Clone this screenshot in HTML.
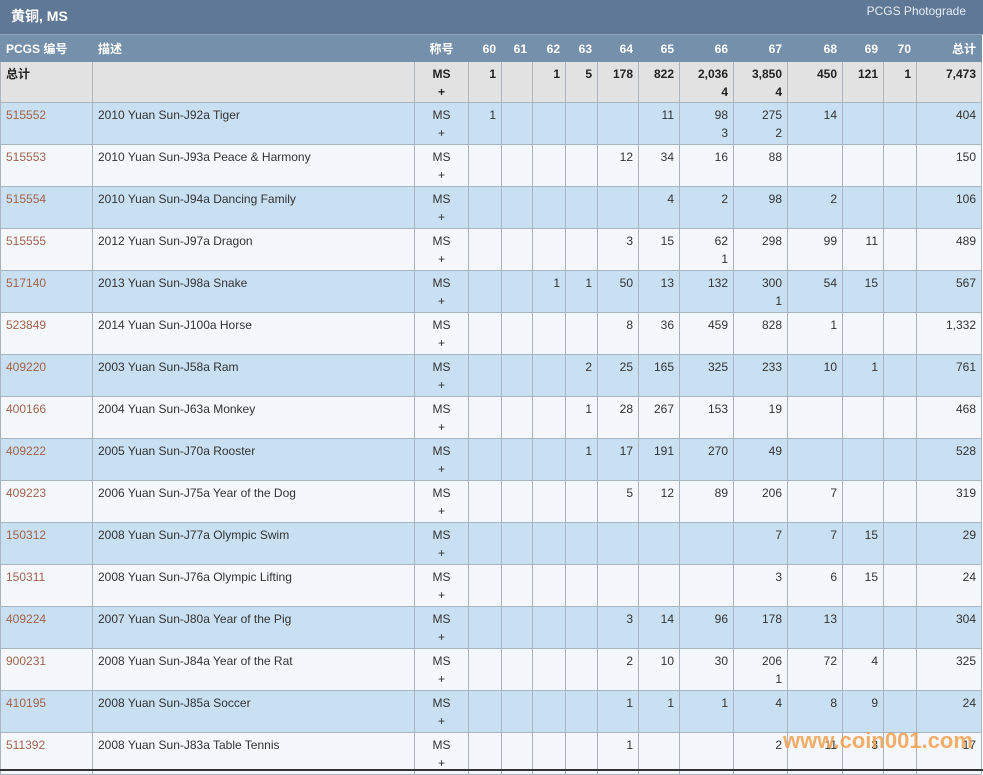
<!DOCTYPE html>
<html><head><meta charset="utf-8"><style>
body{margin:0;width:983px;height:771px;overflow:hidden;background:#fff;font-family:"Liberation Sans","Noto Sans CJK SC",sans-serif;font-size:12px;color:#333;position:relative}
.bar{position:absolute;left:0;top:0;width:983px;height:35px;background:#5f7896;border-bottom:1px solid #8ea3b9;box-sizing:border-box}
.bar .t{position:absolute;left:11px;top:6px;color:#fff;font-weight:bold;font-size:14px}
.bar .r{position:absolute;right:17px;top:4px;color:#e6edf5;font-size:12px}
table{position:absolute;left:0;top:35px;border-collapse:collapse;table-layout:fixed;width:982px}
td,th{border:1px solid #a9b4c0;padding:3px 5px 0 5px;vertical-align:top;text-align:right;line-height:18px;overflow:hidden;white-space:nowrap}
th{background:#7590ab;color:#fff;height:21px;border-color:#7590ab;font-weight:bold;padding-top:4px;padding-bottom:0}
td.l,th.l{text-align:left}
td.c,th.c{text-align:center}
tr.tot td{background:#e2e2e2;font-weight:bold;color:#222;height:37px}
tr.b td{background:#c9dff2}
tr.w td{background:#f4f8fc}
tr.d td{height:38px}
a{color:#a0634a;text-decoration:none}
.wm{position:absolute;left:783px;top:728px;color:#f2a050;font-weight:bold;font-size:22px;opacity:.85}
.bot{position:absolute;left:0;top:769px;width:983px;height:2px;background:#333}
</style></head><body>
<div class="bar"><span class="t">黄铜, MS</span><span class="r">PCGS Photograde</span></div>
<table>
<colgroup><col style="width:92px"><col style="width:322px"><col style="width:54px"><col style="width:33px"><col style="width:31px"><col style="width:33px"><col style="width:32px"><col style="width:41px"><col style="width:41px"><col style="width:54px"><col style="width:54px"><col style="width:55px"><col style="width:41px"><col style="width:33px"><col style="width:65px"></colgroup>
<tr><th class="l">PCGS 编号</th><th class="l">描述</th><th class="c">称号</th><th>60</th><th>61</th><th>62</th><th>63</th><th>64</th><th>65</th><th>66</th><th>67</th><th>68</th><th>69</th><th>70</th><th>总计</th></tr>
<tr class="tot"><td class="l">总计</td><td></td><td class="c">MS<br>+</td><td>1</td><td></td><td>1</td><td>5</td><td>178</td><td>822</td><td>2,036<br>4</td><td>3,850<br>4</td><td>450</td><td>121</td><td>1</td><td>7,473</td></tr>
<tr class="b d"><td class="l"><a>515552</a></td><td class="l">2010 Yuan Sun-J92a Tiger</td><td class="c">MS<br>+</td><td>1</td><td></td><td></td><td></td><td></td><td>11</td><td>98<br>3</td><td>275<br>2</td><td>14</td><td></td><td></td><td>404</td></tr>
<tr class="w d"><td class="l"><a>515553</a></td><td class="l">2010 Yuan Sun-J93a Peace &amp; Harmony</td><td class="c">MS<br>+</td><td></td><td></td><td></td><td></td><td>12</td><td>34</td><td>16</td><td>88</td><td></td><td></td><td></td><td>150</td></tr>
<tr class="b d"><td class="l"><a>515554</a></td><td class="l">2010 Yuan Sun-J94a Dancing Family</td><td class="c">MS<br>+</td><td></td><td></td><td></td><td></td><td></td><td>4</td><td>2</td><td>98</td><td>2</td><td></td><td></td><td>106</td></tr>
<tr class="w d"><td class="l"><a>515555</a></td><td class="l">2012 Yuan Sun-J97a Dragon</td><td class="c">MS<br>+</td><td></td><td></td><td></td><td></td><td>3</td><td>15</td><td>62<br>1</td><td>298</td><td>99</td><td>11</td><td></td><td>489</td></tr>
<tr class="b d"><td class="l"><a>517140</a></td><td class="l">2013 Yuan Sun-J98a Snake</td><td class="c">MS<br>+</td><td></td><td></td><td>1</td><td>1</td><td>50</td><td>13</td><td>132</td><td>300<br>1</td><td>54</td><td>15</td><td></td><td>567</td></tr>
<tr class="w d"><td class="l"><a>523849</a></td><td class="l">2014 Yuan Sun-J100a Horse</td><td class="c">MS<br>+</td><td></td><td></td><td></td><td></td><td>8</td><td>36</td><td>459</td><td>828</td><td>1</td><td></td><td></td><td>1,332</td></tr>
<tr class="b d"><td class="l"><a>409220</a></td><td class="l">2003 Yuan Sun-J58a Ram</td><td class="c">MS<br>+</td><td></td><td></td><td></td><td>2</td><td>25</td><td>165</td><td>325</td><td>233</td><td>10</td><td>1</td><td></td><td>761</td></tr>
<tr class="w d"><td class="l"><a>400166</a></td><td class="l">2004 Yuan Sun-J63a Monkey</td><td class="c">MS<br>+</td><td></td><td></td><td></td><td>1</td><td>28</td><td>267</td><td>153</td><td>19</td><td></td><td></td><td></td><td>468</td></tr>
<tr class="b d"><td class="l"><a>409222</a></td><td class="l">2005 Yuan Sun-J70a Rooster</td><td class="c">MS<br>+</td><td></td><td></td><td></td><td>1</td><td>17</td><td>191</td><td>270</td><td>49</td><td></td><td></td><td></td><td>528</td></tr>
<tr class="w d"><td class="l"><a>409223</a></td><td class="l">2006 Yuan Sun-J75a Year of the Dog</td><td class="c">MS<br>+</td><td></td><td></td><td></td><td></td><td>5</td><td>12</td><td>89</td><td>206</td><td>7</td><td></td><td></td><td>319</td></tr>
<tr class="b d"><td class="l"><a>150312</a></td><td class="l">2008 Yuan Sun-J77a Olympic Swim</td><td class="c">MS<br>+</td><td></td><td></td><td></td><td></td><td></td><td></td><td></td><td>7</td><td>7</td><td>15</td><td></td><td>29</td></tr>
<tr class="w d"><td class="l"><a>150311</a></td><td class="l">2008 Yuan Sun-J76a Olympic Lifting</td><td class="c">MS<br>+</td><td></td><td></td><td></td><td></td><td></td><td></td><td></td><td>3</td><td>6</td><td>15</td><td></td><td>24</td></tr>
<tr class="b d"><td class="l"><a>409224</a></td><td class="l">2007 Yuan Sun-J80a Year of the Pig</td><td class="c">MS<br>+</td><td></td><td></td><td></td><td></td><td>3</td><td>14</td><td>96</td><td>178</td><td>13</td><td></td><td></td><td>304</td></tr>
<tr class="w d"><td class="l"><a>900231</a></td><td class="l">2008 Yuan Sun-J84a Year of the Rat</td><td class="c">MS<br>+</td><td></td><td></td><td></td><td></td><td>2</td><td>10</td><td>30</td><td>206<br>1</td><td>72</td><td>4</td><td></td><td>325</td></tr>
<tr class="b d"><td class="l"><a>410195</a></td><td class="l">2008 Yuan Sun-J85a Soccer</td><td class="c">MS<br>+</td><td></td><td></td><td></td><td></td><td>1</td><td>1</td><td>1</td><td>4</td><td>8</td><td>9</td><td></td><td>24</td></tr>
<tr class="w d"><td class="l"><a>511392</a></td><td class="l">2008 Yuan Sun-J83a Table Tennis</td><td class="c">MS<br>+</td><td></td><td></td><td></td><td></td><td>1</td><td></td><td></td><td>2</td><td>11</td><td>3</td><td></td><td>17</td></tr>
</table>
<div class="wm">www.coin001.com</div>
<div class="bot"></div>
</body></html>
